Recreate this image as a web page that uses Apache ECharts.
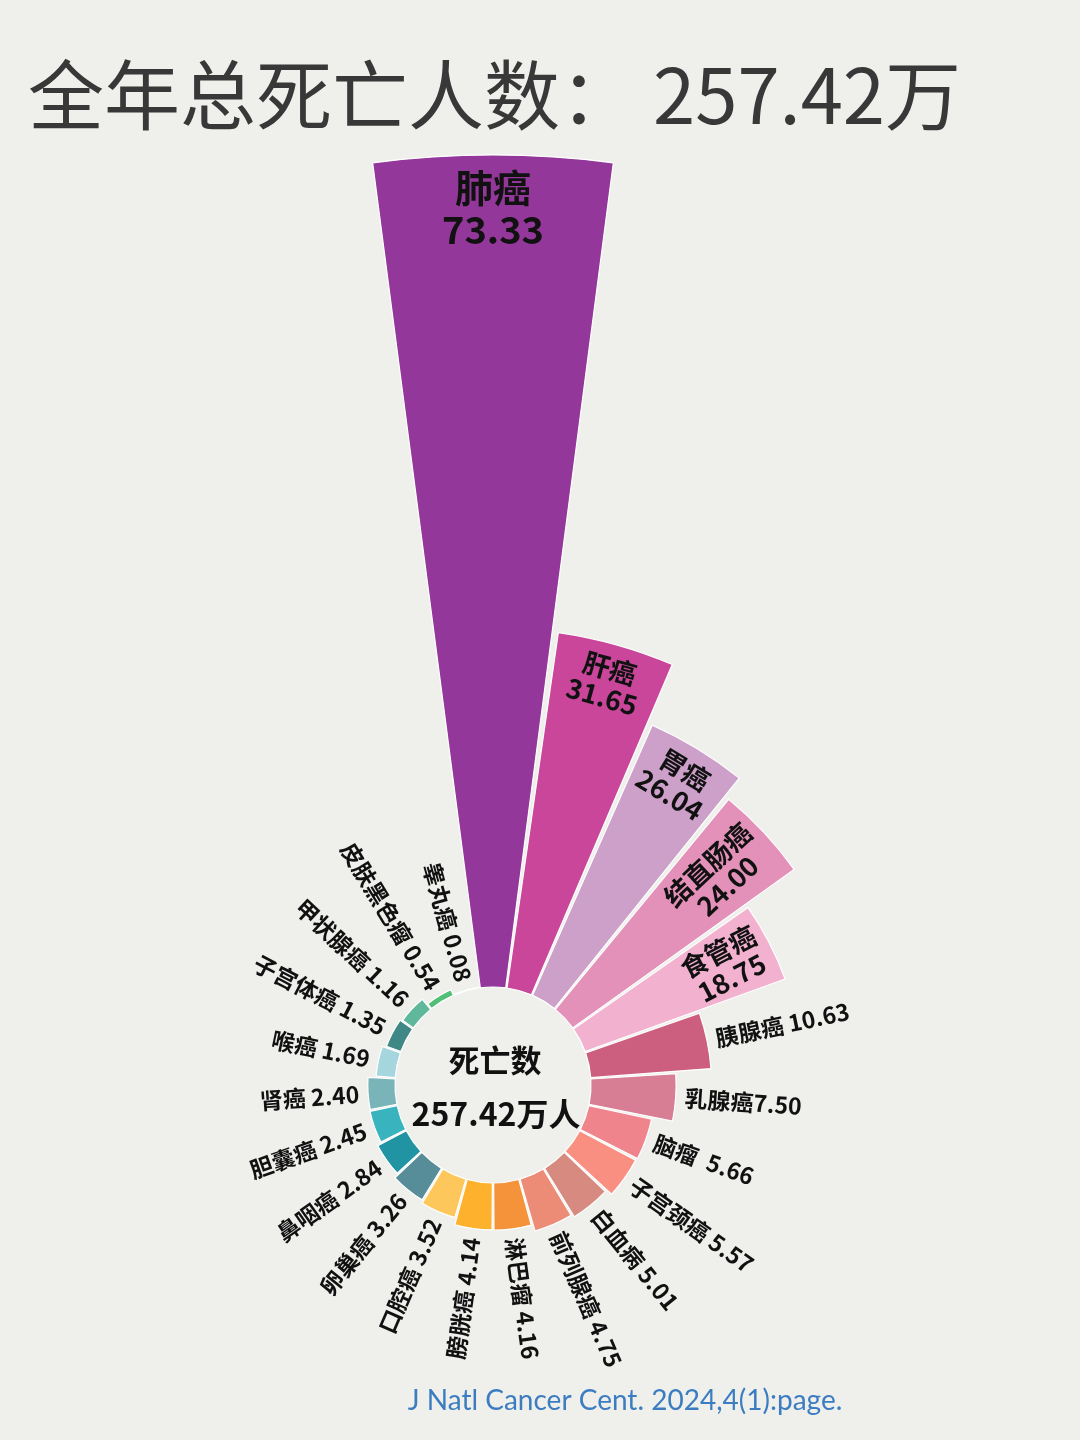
<!DOCTYPE html>
<html>
<head>
<meta charset="utf-8">
<script src="https://cdn.jsdelivr.net/npm/echarts@6/dist/echarts.min.js"></script>
<style>
html,body{margin:0;padding:0;background:#efefec;}
#main{width:1080px;height:1440px;}
</style>
</head>
<body>
<div id="main"></div>
<script>
// ---- data ----
const names = ['肺癌','肝癌','胃癌','结直肠癌','食管癌','胰腺癌','乳腺癌','脑瘤','子宫颈癌','白血病','前列腺癌','淋巴瘤','膀胱癌','口腔癌','卵巢癌','鼻咽癌','胆囊癌','肾癌','喉癌','子宫体癌','甲状腺癌','皮肤黑色瘤','睾丸癌'];
const values = [73.33,31.65,26.04,24.00,18.75,10.63,7.50,5.66,5.57,5.01,4.75,4.16,4.14,3.52,3.26,2.84,2.45,2.40,1.69,1.35,1.16,0.54,0.08];
const seps = [' ',' ',' ',' ',' ',' ','','  ',' ',' ',' ',' ',' ',' ',' ',' ',' ',' ',' ',' ',' ',' ',' '];
const colors = ['#94379a','#c9469a','#cda0ca','#e391b9','#f3b1d0','#cc5f80','#d77d94','#f0848d','#f88f80','#d68a80','#ec8b76','#f5933a','#fdb12c','#fec75b','#578c99','#2194a4','#39b4be','#79b5b8','#a6d6dd','#3f8885','#5fb89c','#52bf78','#66c48a'];
const titleText = '全年总死亡人数： 257.42万';
const centerTitle = '死亡数';
const centerValue = '257.42万人';
const sourceText = 'J Natl Cancer Cent. 2024,4(1):page.';
// label modes: 'tan' = tangential inside, 'rad' = radial inside, 'out' = radial outside
const labelModes = ['tan','tan','tan','rad','rad','out','out','out','out','out','out','out','out','out','out','out','out','out','out','out','out','out','out'];

const chart = echarts.init(document.getElementById('main'), null, {renderer:'canvas'});
const CJK = '"Noto Sans CJK SC", "Noto Sans", sans-serif';
const measureCtx = document.createElement('canvas').getContext('2d');
function textWidth(t, size) {
  measureCtx.font = 'bold ' + size + 'px ' + CJK;
  return measureCtx.measureText(t).width;
}

const option = {
  backgroundColor: '#efefec',
  animation: false,
  polar: { center: [493, 1085], radius: [98, 930] },
  angleAxis: {
    type: 'category', data: names,
    startAngle: 90 + 180 / names.length, clockwise: true,
    axisLine: {show:false}, axisTick: {show:false}, axisLabel: {show:false}, splitLine: {show:false}
  },
  radiusAxis: {
    type: 'value', min: 0, max: 'dataMax',
    axisLine: {show:false}, axisTick: {show:false}, axisLabel: {show:false}, splitLine: {show:false}
  },
  series: [
    {
      type: 'bar', coordinateSystem: 'polar',
      barCategoryGap: '5%',
      data: values.map((v, i) => ({ value: v, itemStyle: { color: colors[i] } })),
      itemStyle: { borderColor: '#ffffff', borderWidth: 1.2 },
      label: { show: false }
    },
    {
      type: 'custom', coordinateSystem: 'polar', silent: true, z: 10,
      data: values.map((v, i) => [v, i]),
      encode: { radius: 0, angle: 1 },
      renderItem: function (params, api) {
        const v = api.value(0), i = api.value(1);
        const pe = api.coord([v, i]);
        const p0 = api.coord([0, i]);
        const dx = pe[0] - p0[0], dy = pe[1] - p0[1];
        const len = Math.sqrt(dx * dx + dy * dy) || 1;
        const ux = dx / len, uy = dy / len;
        const phi = Math.atan2(-dy, dx);
        const mode = labelModes[i];
        const valStr = values[i].toFixed(2);
        if (mode === 'tan') {
          const big = i === 0;
          const pad = big ? 12 : 10;
          return {
            type: 'text',
            x: pe[0] - ux * pad, y: pe[1] - uy * pad,
            rotation: phi - Math.PI / 2,
            style: {
              text: names[i] + '\n' + valStr,
              fill: '#111', fontFamily: CJK, fontWeight: 'bold',
              fontSize: big ? 38 : 27, lineHeight: big ? 42 : 29,
              align: 'center', verticalAlign: 'top'
            }
          };
        }
        if (mode === 'rad') {
          const fs = 27;
          const half = Math.max(textWidth(names[i], fs), textWidth(valStr, fs)) / 2;
          const off = 9 + half;
          return {
            type: 'text',
            x: pe[0] - ux * off, y: pe[1] - uy * off,
            rotation: phi,
            style: {
              text: names[i] + '\n' + valStr,
              fill: '#111', fontFamily: CJK, fontWeight: 'bold',
              fontSize: fs, lineHeight: 29,
              align: 'center', verticalAlign: 'middle'
            }
          };
        }
        const dist = 9;
        const right = dx >= -0.001;
        return {
          type: 'text',
          x: pe[0] + ux * dist, y: pe[1] + uy * dist,
          rotation: right ? phi : phi - Math.PI,
          style: {
            text: names[i] + seps[i] + valStr,
            fill: '#111', fontFamily: CJK, fontWeight: 'bold', fontSize: 23,
            align: right ? 'left' : 'right', verticalAlign: 'middle'
          }
        };
      }
    }
  ],
  graphic: [
    { type: 'text', x: 28, y: 95, style: { text: titleText, fill: '#383838', fontFamily: CJK, fontSize: 76, fontWeight: 'normal', align: 'left', verticalAlign: 'middle' } },
    { type: 'text', x: 495, y: 1060, style: { text: centerTitle, fill: '#111', fontFamily: CJK, fontSize: 31, fontWeight: 'bold', align: 'center', verticalAlign: 'middle' } },
    { type: 'text', x: 496, y: 1114, style: { text: centerValue, fill: '#111', fontFamily: CJK, fontSize: 32, fontWeight: 'bold', align: 'center', verticalAlign: 'middle' } },
    { type: 'text', x: 625, y: 1401, style: { text: sourceText, fill: '#3b7dc0', fontFamily: 'Lato, "Open Sans", sans-serif', fontSize: 28, align: 'center', verticalAlign: 'middle' } }
  ]
};
chart.setOption(option);
</script>
</body>
</html>
